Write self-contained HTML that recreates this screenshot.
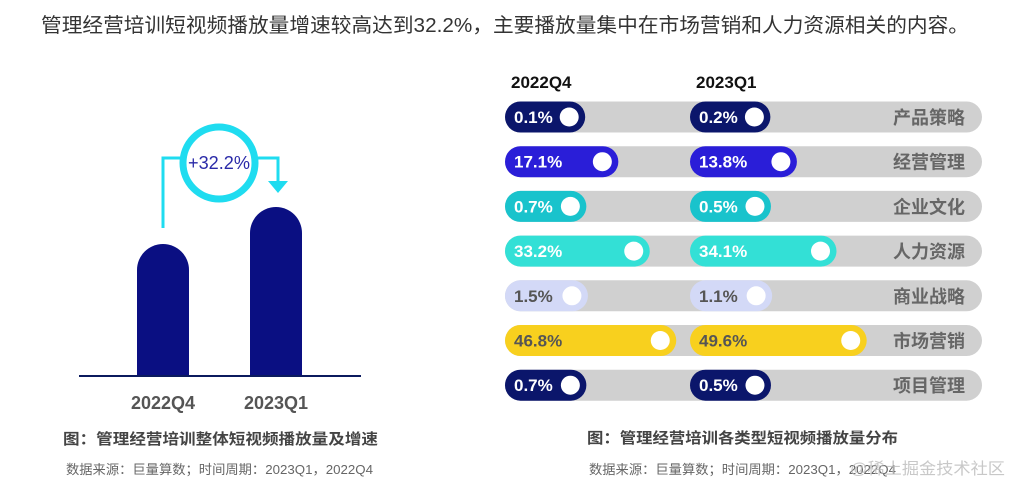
<!DOCTYPE html>
<html><head><meta charset="utf-8"><style>
body{margin:0;background:#fff;}
svg{display:block;font-family:"Liberation Sans","Noto Sans CJK SC",sans-serif;}
</style></head><body>
<svg id="chart" width="1024" height="492" viewBox="0 0 1024 492" xmlns="http://www.w3.org/2000/svg">
<text x="41" y="32" font-size="20" fill="#333" textLength="928" lengthAdjust="spacingAndGlyphs">管理经营培训短视频播放量增速较高达到32.2%，主要播放量集中在市场营销和人力资源相关的内容。</text>
<g id="left"></g>
<g id="right"></g>
<text x="63" y="444" font-size="15" font-weight="bold" fill="#444" textLength="315" lengthAdjust="spacingAndGlyphs">图：管理经营培训整体短视频播放量及增速</text>
<text x="66" y="474" font-size="13" fill="#666" textLength="307" lengthAdjust="spacingAndGlyphs">数据来源：巨量算数；时间周期：2023Q1，2022Q4</text>
<text x="587" y="443" font-size="15" font-weight="bold" fill="#444" textLength="311" lengthAdjust="spacingAndGlyphs">图：管理经营培训各类型短视频播放量分布</text>
<text x="589" y="474" font-size="13" fill="#666" textLength="307" lengthAdjust="spacingAndGlyphs">数据来源：巨量算数；时间周期：2023Q1，2022Q4</text>
<text x="850" y="474" font-size="16" fill="#bbb" opacity="0.8" textLength="155" lengthAdjust="spacingAndGlyphs">@稀土掘金技术社区</text>
</svg>
<script>
const quarters = ["2022Q4", "2023Q1"];
const totals = [1.0, 1.28];
const growthLabel = "+32.2%";
const categories = ["产品策略","经营管理","企业文化","人力资源","商业战略","市场营销","项目管理"];
const shareQ4 = [0.1, 17.1, 0.7, 33.2, 1.5, 46.8, 0.7];
const shareQ1 = [0.2, 13.8, 0.5, 34.1, 1.1, 49.6, 0.5];
const rowColors = ["#0b166b","#2a1ed8","#19c3cc","#33e0d6","#d3d9f7","#f8d01e","#0b166b"];
const rowText = ["#fff","#fff","#fff","#fff","#555","#555","#fff"];

const NS="http://www.w3.org/2000/svg";
function mk(tag, attrs, parent){const e=document.createElementNS(NS,tag);for(const k in attrs)e.setAttribute(k,attrs[k]);parent.appendChild(e);return e;}

const L=document.getElementById('left');
const base=376, maxH=132/1.0;
const yS=v=>base - v*maxH;
const xC=[163, 276];
const bw=52;
totals.forEach((v,i)=>{
  const x=xC[i]-bw/2, top=yS(v), r=bw/2;
  const p=mk('path',{d:`M${x},${base} L${x},${top+r} A${r},${r} 0 0 1 ${x+bw},${top+r} L${x+bw},${base} Z`,fill:'#0a0f82'},L);
  
  
  const t=mk('text',{x:xC[i],y:409,'font-size':18,'font-weight':'bold',fill:'#555','text-anchor':'middle'},L);
  t.textContent=quarters[i];
  
  
});
const ax=mk('line',{x1:79,y1:base,x2:361,y2:base,stroke:'#0b1a5e','stroke-width':2},L);


const cx=219, cy=163;
const conn=mk('path',{d:`M${xC[0]},${yS(totals[0])-16} L${xC[0]},158 L${cx-39},158 M${cx+39},158 L${xC[1]+2},158 L${xC[1]+2},182`,fill:'none',stroke:'#1fdcf0','stroke-width':3},L);


const arr=mk('path',{d:`M${xC[1]-8},181 L${xC[1]+12},181 L${xC[1]+2},193 Z`,fill:'#1fdcf0'},L);


const circ=mk('circle',{cx:cx,cy:cy,r:36,fill:'#fff',stroke:'#1fdcf0','stroke-width':7},L);


const gt=mk('text',{x:cx,y:cy+6,'font-size':18,fill:'#2a2aa8','text-anchor':'middle',textLength:62,lengthAdjust:'spacingAndGlyphs'},L);
gt.textContent=growthLabel;



const R=document.getElementById('right');
const colX=[505,690];
const rowY=i=>117+i*44.7;
const wS=v=>80+v*1.95;
quarters.forEach((q,j)=>{
  const t=mk('text',{x:colX[j]+6,y:88,'font-size':17,'font-weight':'bold',fill:'#111'},R);
  t.textContent=q;
  
  
});
categories.forEach((c,i)=>{
  const y=rowY(i), h=31;
  const tr=mk('rect',{x:505,y:y-h/2,width:477,height:h,rx:h/2,fill:'#d0d0d0'},R);
  
  
  [shareQ4[i],shareQ1[i]].forEach((v,j)=>{
    const w=wS(v);
    const b=mk('rect',{x:colX[j],y:y-h/2,width:w,height:h,rx:h/2,fill:rowColors[i]},R);
    
    
    const k=mk('circle',{cx:colX[j]+w-16,cy:y,r:9.5,fill:'#fff'},R);
    
    
    const t=mk('text',{x:colX[j]+9,y:y+6,'font-size':17,'font-weight':'bold',fill:rowText[i]},R);
    t.textContent=v.toFixed(1)+'%';
    
    
  });
  const lb=mk('text',{x:965,y:y+7,'font-size':18,'font-weight':'bold',fill:'#666','text-anchor':'end'},R);
  lb.textContent=c;
  
  
});
</script>
</body></html>
